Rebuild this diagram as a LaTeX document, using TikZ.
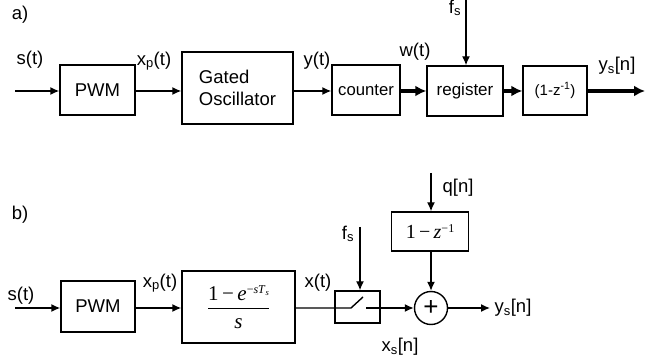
\documentclass[tikz,border=0pt]{standalone}
\usepackage{amsmath}
\usepackage{fontspec}
\setmainfont{Liberation Sans}
\newfontfamily\timesfont{Liberation Serif}
\usetikzlibrary{
  arrows.meta,
  positioning,
  calc,
}
\newcommand{\supsmall}[1]{\raisebox{0.75ex}{\fontsize{12}{13}\selectfont #1}}
\tikzset{
  blk/.style={
    rectangle, draw=black, line width=1.4pt, fill=white, inner sep=0pt,
    font=\fontsize{18.5}{22}\selectfont, align=center,
  },
  lbl/.style={
    inner sep=0pt, font=\fontsize{18.5}{22}\selectfont,
  },
  arrowThin/.style={
    -{Latex[length=9pt,width=8pt]}, line width=1.4pt,
  },
  arrowThick/.style={
    -{Latex[length=11pt,width=11pt]}, line width=4pt,
  },
  sumnode/.style={
    circle, draw=black, line width=1.4pt, minimum size=33pt, inner sep=0pt,
    font=\fontsize{26}{26}\selectfont,
  },
}

\begin{document}
\begin{tikzpicture}[x=1pt, y=-1pt]
\useasboundingbox (0,0) rectangle (645,363);

% a) counter based converter
\node[lbl] (lblA) at (20,15) {a)};
\coordinate (inA) at (15,91);
\coordinate (fsA) at (466,0);
\coordinate (outA) at (645,91);

\node[blk, minimum width=75pt, minimum height=50pt] (pwmA) at (97.5,90) {PWM};
\node[blk, minimum width=111pt, minimum height=72pt, align=left] (oscA) at (237.5,88)
  {Gated\\Oscillator};
\node[blk, minimum width=68pt, minimum height=50pt,
      font=\fontsize{16.7}{20}\selectfont] (cntA) at (366,90) {counter};
\node[blk, minimum width=76pt, minimum height=50pt,
      font=\fontsize{17}{20}\selectfont] (regA) at (465,91) {register};
\node[blk, minimum width=64pt, minimum height=49pt,
      font=\fontsize{15}{18}\selectfont] (difA) at (555,90.5) {(1-z\textsuperscript{-1})};

\node[lbl] (lblSa) at (30,60) {s(t)};
\node[lbl] (lblXpa) at (154,61) {x\textsubscript{p}(t)};
\node[lbl] (lblYa) at (317,61) {y(t)};
\node[lbl] (lblWa) at (415,52) {w(t)};
\node[lbl] (lblFsa) at (455,8) {f\textsubscript{s}};
\node[lbl] (lblYsa) at (617,66) {y\textsubscript{s}[n]};

\draw[arrowThin] (inA) -- (inA -| pwmA.west);
\draw[arrowThin] (pwmA.east |- inA) -- (inA -| oscA.west);
\draw[arrowThin] (oscA.east |- inA) -- (inA -| cntA.west);
\draw[arrowThick] (cntA.east |- inA) -- (inA -| regA.west);
\draw[arrowThick] (regA.east |- inA) -- (inA -| difA.west);
\draw[arrowThick] (difA.east |- inA) -- (outA);
\draw[arrowThin] (fsA) -- (fsA |- regA.north);

% b) equivalent model
\node[lbl] (lblB) at (20,215) {b)};
\coordinate (inB) at (15,308);
\coordinate (fsB) at (360,227);
\coordinate (qB) at (431,173);
\coordinate (outB) at (490,308);
\coordinate (swL) at (351,308);
\coordinate (swT) at (363,297);
\coordinate (swR) at (366,308);

\node[blk, minimum width=74pt, minimum height=51pt] (pwmB) at (98,306.5) {PWM};
\node[blk, minimum width=113pt, minimum height=72pt] (hB) at (238.5,307)
  {$\dfrac{\hbox{\fontsize{21}{24}\selectfont\timesfont 1\,−\,\textit{e}\supsmall{−\textit{sT}\raisebox{-0.35ex}{\fontsize{8.5}{9}\selectfont\textit{s}}}}\rule[-5pt]{0pt}{5pt}}
          {\hbox{\fontsize{21}{24}\selectfont\timesfont\itshape s}\rule{0pt}{18pt}}$};
\node[blk, minimum width=45pt, minimum height=32pt] (swB) at (357.5,307) {};
\node[sumnode] (sumB) at (431,308) {+};
\node[blk, minimum width=77pt, minimum height=39pt] (zB) at (430,231.5)
  {\fontsize{20}{22}\selectfont\timesfont 1\,−\,\textit{z}\supsmall{−1}};

\node[lbl] (lblSb) at (21,296) {s(t)};
\node[lbl] (lblXpb) at (160,283) {x\textsubscript{p}(t)};
\node[lbl] (lblXb) at (318,283) {x(t)};
\node[lbl] (lblFsb) at (348,234) {f\textsubscript{s}};
\node[lbl] (lblQb) at (458,188) {q[n]};
\node[lbl] (lblYsb) at (513,308) {y\textsubscript{s}[n]};
\node[lbl] (lblXsb) at (400,347) {x\textsubscript{s}[n]};

\draw[arrowThin] (inB) -- (inB -| pwmB.west);
\draw[arrowThin] (pwmB.east |- inB) -- (inB -| hB.west);
\draw[line width=1.4pt] (hB.east |- inB) -- (swL) -- (swT);
\draw[arrowThin] (swR) -- (sumB.west);
\draw[arrowThin] (fsB) -- (fsB |- swB.north);
\draw[arrowThin] (qB) -- (qB |- zB.north);
\draw[arrowThin] (zB.south -| sumB) -- (sumB.north);
\draw[arrowThin] (sumB.east) -- (outB);

\end{tikzpicture}
\end{document}
